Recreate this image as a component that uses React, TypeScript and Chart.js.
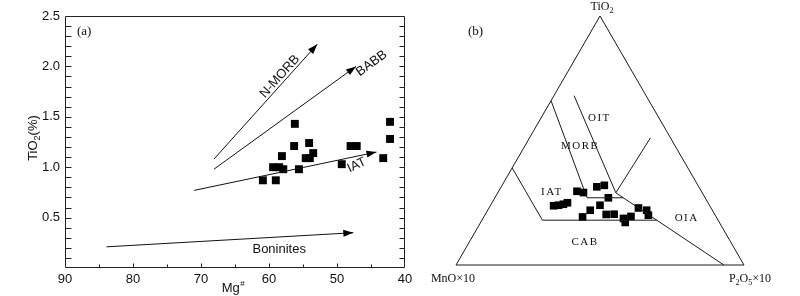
import React, { useEffect, useRef } from "react";
import { Chart, registerables } from "chart.js";

Chart.register(...registerables);

// ---------------- Panel (a): TiO2 (%) vs Mg# ----------------
const mgNumber = [56.2, 56.3, 54.1, 58.1, 53.5, 54.6, 54.0, 59.4, 58.5, 57.9, 55.6, 60.9, 59.0, 49.3, 48.0, 47.1, 43.2, 42.2, 42.2];
const tio2Pct = [1.43, 1.21, 1.24, 1.11, 1.14, 1.09, 1.09, 1.0, 1.0, 0.98, 0.98, 0.87, 0.87, 1.03, 1.21, 1.21, 1.09, 1.45, 1.28];

const xTickValues = [90, 80, 70, 60, 50, 40];
const xTickLabels = ["90", "80", "70", "60", "50", "40"];
const yTickValues = [0.5, 1.0, 1.5, 2.0, 2.5];
const yTickLabels = ["0.5", "1.0", "1.5", "2.0", "2.5"];

const trendNames = ["N-MORB", "BABB", "IAT", "Boninites"];
const trendStartMg = [68.1, 68.1, 71.0, 83.9];
const trendStartTi = [1.08, 0.98, 0.77, 0.21];
const trendEndMg = [52.9, 47.2, 44.2, 47.6];
const trendEndTi = [2.22, 2.0, 1.15, 0.35];
const trendLabelMg = [58.4, 44.9, 47.1, 58.5];
const trendLabelTi = [1.9, 2.03, 1.02, 0.18];
const trendLabelAngle = [-48, -36, -25, 0];

// ---------------- Panel (b): TiO2 - MnO×10 - P2O5×10 ----------------
const ternTiO2 = [23.8, 24.0, 24.4, 25.0, 29.6, 29.1, 31.4, 32.0, 27.0, 24.0, 22.0, 19.3, 20.3, 20.4, 18.7, 17.1, 19.5, 22.9, 22.0, 20.0];
const ternMnO = [54.2, 52.4, 50.5, 48.8, 43.2, 41.2, 35.4, 32.5, 33.6, 38.0, 42.4, 46.4, 37.7, 34.9, 32.5, 32.7, 29.5, 25.2, 22.8, 23.2];
const ternP2O5 = [22.0, 23.6, 25.1, 26.2, 27.2, 29.7, 33.2, 35.5, 39.4, 38.0, 35.6, 34.3, 42.0, 44.7, 48.8, 50.2, 51.0, 51.9, 55.2, 56.8];

// field boundaries, each vertex = [TiO2, MnO×10, P2O5×10]
const triangleOutline = [[100, 0, 0], [0, 100, 0], [0, 0, 100], [100, 0, 0]];
const boundaryA = [[66, 34, 0], [27, 41, 32], [27, 28.5, 44.5]];
const boundaryB = [[68, 25, 7], [29, 30, 41]];
const boundaryC = [[51, 7, 42], [29, 30, 41]];
const boundaryD = [[29, 30, 41], [0, 7, 93]];
const boundaryE = [[39, 61, 0], [18, 61, 21], [18, 21.3, 60.7]];

const fieldNames = ["OIT", "MORB", "IAT", "OIA", "CAB"];
const fieldLabelX = [0.498, 0.431, 0.333, 0.801, 0.448];
const fieldLabelY = [0.512, 0.413, 0.254, 0.162, 0.079];

const SANS = "'Liberation Sans', Arial, sans-serif";
const SERIF = "'Liberation Serif', 'Times New Roman', serif";
const H = Math.sqrt(3) / 2;

function ternToXY(t: number, m: number, p: number) {
  const s = t + m + p;
  return { x: (p + t / 2) / s, y: (t / s) * H };
}

function makeChartA(canvas: HTMLCanvasElement) {
  const trendDatasets = trendNames.map((name, i) => ({
    label: name,
    data: [
      { x: trendStartMg[i], y: trendStartTi[i] },
      { x: trendEndMg[i], y: trendEndTi[i] },
    ],
    showLine: true,
    borderColor: "#111",
    borderWidth: 1,
    pointRadius: 0,
    fill: false,
    clip: false as any,
  }));
  const sampleDataset = {
    label: "samples",
    data: mgNumber.map((x, i) => ({ x, y: tio2Pct[i] })),
    pointStyle: "rect",
    pointRadius: 5.6,
    backgroundColor: "#000",
    borderColor: "#000",
    borderWidth: 0,
    showLine: false,
    clip: false as any,
  };

  const decor = {
    id: "panelA",
    afterDraw(chart: any) {
      const { ctx, chartArea: a, scales } = chart;
      const x = scales.x;
      const y = scales.y;
      const L = Math.round(a.left) + 0.5;
      const R = Math.round(a.right) - 0.5;
      const T = Math.round(a.top) + 0.5;
      const B = Math.round(a.bottom) - 0.5;
      ctx.save();
      ctx.strokeStyle = "#222";
      ctx.lineWidth = 1;
      ctx.beginPath();
      ctx.moveTo(L, T);
      ctx.lineTo(R, T);
      ctx.lineTo(R, B);
      ctx.lineTo(L, B);
      ctx.closePath();
      ctx.stroke();
      // inward ticks on y (left and right)
      ctx.beginPath();
      for (let k = 1; k < 25; k++) {
        const py = Math.round(y.getPixelForValue(k / 10)) + 0.5;
        ctx.moveTo(L, py);
        ctx.lineTo(L + 6, py);
        ctx.moveTo(R, py);
        ctx.lineTo(R - 5, py);
      }
      // inward ticks on x (bottom)
      for (let v = 45; v <= 85; v += 5) {
        const px = Math.round(x.getPixelForValue(v)) + 0.5;
        const len = v % 10 === 0 ? 4 : 3;
        ctx.moveTo(px, B);
        ctx.lineTo(px, B - len);
      }
      ctx.stroke();

      // arrowheads
      ctx.fillStyle = "#000";
      trendNames.forEach((_, i) => {
        const x0 = x.getPixelForValue(trendStartMg[i]);
        const y0 = y.getPixelForValue(trendStartTi[i]);
        const x1 = x.getPixelForValue(trendEndMg[i]);
        const y1 = y.getPixelForValue(trendEndTi[i]);
        const ang = Math.atan2(y1 - y0, x1 - x0);
        const len = 10;
        const w = 3.5;
        const bx = x1 - len * Math.cos(ang);
        const by = y1 - len * Math.sin(ang);
        ctx.beginPath();
        ctx.moveTo(x1, y1);
        ctx.lineTo(bx + w * Math.sin(ang), by - w * Math.cos(ang));
        ctx.lineTo(bx - w * Math.sin(ang), by + w * Math.cos(ang));
        ctx.closePath();
        ctx.fill();
      });

      // trend labels
      ctx.fillStyle = "#111";
      ctx.font = `13px ${SANS}`;
      ctx.textAlign = "center";
      ctx.textBaseline = "middle";
      trendNames.forEach((name, i) => {
        ctx.save();
        ctx.translate(x.getPixelForValue(trendLabelMg[i]), y.getPixelForValue(trendLabelTi[i]));
        ctx.rotate((trendLabelAngle[i] * Math.PI) / 180);
        ctx.fillText(name, 0, 0);
        ctx.restore();
      });

      // panel tag
      ctx.font = `13px ${SERIF}`;
      ctx.textAlign = "left";
      ctx.fillText("(a)", 77, 32);

      // x title Mg#
      ctx.textBaseline = "alphabetic";
      ctx.font = `13px ${SANS}`;
      const mgW = ctx.measureText("Mg").width;
      ctx.font = `8px ${SANS}`;
      const hW = ctx.measureText("#").width;
      const cx = (a.left + a.right) / 2 - 2;
      const sx = cx - (mgW + hW) / 2;
      ctx.font = `13px ${SANS}`;
      ctx.fillText("Mg", sx, 292);
      ctx.font = `8px ${SANS}`;
      ctx.fillText("#", sx + mgW + 0.5, 286);

      // y title TiO2(%)
      ctx.save();
      ctx.translate(37, 138);
      ctx.rotate(-Math.PI / 2);
      ctx.font = `13px ${SANS}`;
      const w1 = ctx.measureText("TiO").width;
      const w3 = ctx.measureText("(%)").width;
      ctx.font = `9px ${SANS}`;
      const w2 = ctx.measureText("2").width;
      let tx = -(w1 + w2 + w3) / 2;
      ctx.font = `13px ${SANS}`;
      ctx.fillText("TiO", tx, 0);
      tx += w1;
      ctx.font = `9px ${SANS}`;
      ctx.fillText("2", tx, 3);
      tx += w2;
      ctx.font = `13px ${SANS}`;
      ctx.fillText("(%)", tx, 0);
      ctx.restore();

      ctx.restore();
    },
  };

  return new Chart(canvas, {
    type: "scatter",
    data: { datasets: [...trendDatasets, sampleDataset] as any },
    options: {
      responsive: false,
      animation: false,
      events: [],
      layout: { padding: { left: 8, right: 20, top: 16, bottom: 0 } },
      plugins: { legend: { display: false }, tooltip: { enabled: false } },
      scales: {
        x: {
          type: "linear",
          reverse: true,
          min: 40,
          max: 90,
          afterBuildTicks: (s: any) => {
            s.ticks = xTickValues.map((v) => ({ value: v }));
          },
          afterFit: (s: any) => {
            s.height = 28;
          },
          grid: { display: false, drawTicks: false },
          border: { display: false },
          ticks: {
            color: "#111",
            padding: 4,
            font: { family: SANS, size: 13 },
            maxRotation: 0,
            callback: (v: any) => xTickLabels[xTickValues.indexOf(Number(v))] ?? "",
          },
        },
        y: {
          type: "linear",
          min: 0,
          max: 2.5,
          afterBuildTicks: (s: any) => {
            s.ticks = yTickValues.map((v) => ({ value: v }));
          },
          afterFit: (s: any) => {
            s.width = 57;
          },
          grid: { display: false, drawTicks: false },
          border: { display: false },
          ticks: {
            color: "#111",
            padding: 5,
            font: { family: SANS, size: 13 },
            callback: (v: any) => yTickLabels[yTickValues.indexOf(Number(v))] ?? "",
          },
        },
      },
    } as any,
    plugins: [decor as any],
  });
}

function makeChartB(canvas: HTMLCanvasElement) {
  const lineDs = (pts: number[][]) => ({
    data: pts.map(([t, m, p]) => ternToXY(t, m, p)),
    showLine: true,
    borderColor: "#1a1a1a",
    borderWidth: 1,
    pointRadius: 0,
    fill: false,
    clip: false as any,
  });
  const samples = {
    data: ternTiO2.map((t, i) => ternToXY(t, ternMnO[i], ternP2O5[i])),
    pointStyle: "rect",
    pointRadius: 5.4,
    backgroundColor: "#000",
    borderColor: "#000",
    borderWidth: 0,
    showLine: false,
    clip: false as any,
  };

  const decor = {
    id: "panelB",
    afterDraw(chart: any) {
      const { ctx, scales } = chart;
      const x = scales.x;
      const y = scales.y;
      ctx.save();
      ctx.fillStyle = "#111";
      ctx.textBaseline = "middle";
      // field names
      ctx.font = `11px ${SERIF}`;
      ctx.letterSpacing = "1.5px";
      ctx.textAlign = "center";
      fieldNames.forEach((n, i) => {
        ctx.fillText(n, x.getPixelForValue(fieldLabelX[i]), y.getPixelForValue(fieldLabelY[i]));
      });
      ctx.letterSpacing = "0px";

      // panel tag
      ctx.font = `13px ${SERIF}`;
      ctx.textAlign = "left";
      ctx.fillText("(b)", x.getPixelForValue(0) + 12, 32);

      // vertex labels with subscripts
      const drawParts = (parts: [string, boolean][], cx: number, base: number) => {
        let total = 0;
        const widths = parts.map(([s, sub]) => {
          ctx.font = sub ? `8px ${SERIF}` : `12px ${SERIF}`;
          const w = ctx.measureText(s).width;
          total += w;
          return w;
        });
        let px = cx - total / 2;
        ctx.textBaseline = "alphabetic";
        ctx.textAlign = "left";
        parts.forEach(([s, sub], i) => {
          ctx.font = sub ? `8px ${SERIF}` : `12px ${SERIF}`;
          ctx.fillText(s, px, sub ? base + 3 : base);
          px += widths[i];
        });
      };
      const topX = x.getPixelForValue(0.5);
      const left = x.getPixelForValue(0);
      const right = x.getPixelForValue(1);
      drawParts([["TiO", false], ["2", true]], topX + 2, 10);
      drawParts([["MnO×10", false]], left - 3, 282);
      drawParts([["P", false], ["2", true], ["O", false], ["5", true], ["×10", false]], right + 6, 282);
      ctx.restore();
    },
  };

  return new Chart(canvas, {
    type: "scatter",
    data: {
      datasets: [
        lineDs(triangleOutline),
        lineDs(boundaryA),
        lineDs(boundaryB),
        lineDs(boundaryC),
        lineDs(boundaryD),
        lineDs(boundaryE),
        samples,
      ] as any,
    },
    options: {
      responsive: false,
      animation: false,
      events: [],
      layout: { padding: { left: 31, right: 56, top: 16, bottom: 31 } },
      plugins: { legend: { display: false }, tooltip: { enabled: false } },
      scales: {
        x: { type: "linear", min: 0, max: 1, display: false },
        y: { type: "linear", min: 0, max: H, display: false },
      },
    } as any,
    plugins: [decor as any],
  });
}

export default function App() {
  const refA = useRef<HTMLCanvasElement>(null);
  const refB = useRef<HTMLCanvasElement>(null);
  useEffect(() => {
    const a = makeChartA(refA.current!);
    const b = makeChartB(refB.current!);
    return () => {
      a.destroy();
      b.destroy();
    };
  }, []);
  return (
    <div style={{ position: "fixed", left: 0, top: 0, width: 800, height: 296, background: "#fff" }}>
      <canvas ref={refA} width={425} height={296} style={{ position: "absolute", left: 0, top: 0 }} />
      <canvas ref={refB} width={375} height={296} style={{ position: "absolute", left: 425, top: 0 }} />
    </div>
  );
}
